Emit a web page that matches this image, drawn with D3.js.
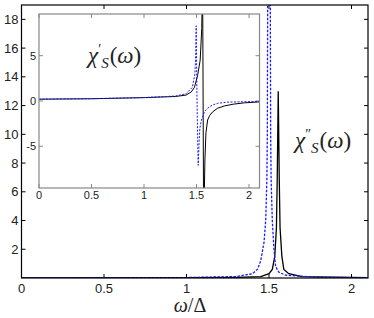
<!DOCTYPE html>
<html>
<head>
<meta charset="utf-8">
<script src="https://cdn.jsdelivr.net/npm/d3@7"></script>
<style>
  body { margin: 0; background: #fff; }
  svg { display: block; font-family: "Liberation Sans", Arial, sans-serif; }
  .math { font-family: "Liberation Serif", "DejaVu Serif", serif; font-style: italic; }
</style>
</head>
<body>
<svg width="374" height="318"></svg>
<script>
// chi'' (imaginary part), main axes
let blackIm = [
  [0, 0], [1.0, 0.02], [1.3, 0.05], [1.45, 0.1], [1.5, 0.3], [1.52, 0.6], [1.535, 1.5],
  [1.545, 3.5], [1.55, 7], [1.556, 13], [1.562, 7], [1.567, 3.5], [1.578, 1.5],
  [1.59, 0.6], [1.62, 0.3], [1.7, 0.1], [2.1, 0.03]
];
let blueIm = [
  [0, 0], [1.0, 0.03], [1.3, 0.1], [1.4, 0.3], [1.43, 0.6], [1.45, 1.2], [1.47, 2.5],
  [1.48, 4], [1.487, 6.8], [1.49, 10], [1.492, 19], [1.494, 30], [1.506, 30], [1.508, 19],
  [1.51, 10], [1.513, 6.8], [1.52, 4], [1.53, 2], [1.54, 0.8], [1.56, 0.4], [1.6, 0.2],
  [1.8, 0.05], [2.1, 0.02]
];
// chi' (real part), inset
let blackRe = [
  [0, 0.2], [0.5, 0.25], [1.0, 0.37], [1.3, 0.5], [1.4, 0.65], [1.45, 1.0], [1.48, 1.5],
  [1.51, 2.8], [1.535, 4.5], [1.55, 8], [1.558, 14], [1.568, -14], [1.575, -10],
  [1.58, -6.5], [1.59, -3.5], [1.606, -2.1], [1.625, -1.6], [1.654, -1.2], [1.7, -0.8],
  [1.765, -0.55], [1.85, -0.35], [1.957, -0.2], [2.1, -0.1]
];
let blueRe = [
  [0, 0.2], [0.5, 0.25], [1.0, 0.38], [1.3, 0.55], [1.4, 0.8], [1.46, 1.5], [1.485, 3],
  [1.492, 5], [1.497, 8.3], [1.505, 0], [1.516, -7.1], [1.525, -4.5], [1.532, -3],
  [1.545, -2.2], [1.558, -1.7], [1.58, -1.1], [1.606, -0.8], [1.65, -0.45], [1.7, -0.26],
  [1.8, -0.12], [2.1, -0.05]
];
let mainXTicks = [0, 0.5, 1, 1.5, 2];
let mainYTicks = [2, 4, 6, 8, 10, 12, 14, 16, 18];
let insetXTicks = [0, 0.5, 1, 1.5, 2];
let insetYTicks = [-5, 0, 5];

let svg = d3.select("svg");

function drawFrame(g, x, y, xt, yt, color, fs, xlabelDy) {
  let [x0, x1] = x.range();
  let [y0, y1] = y.range();
  let tick = 4;
  g.append('rect')
    .attr('x', x0).attr('y', y1)
    .attr('width', x1 - x0).attr('height', y0 - y1)
    .attr('fill', '#fff').attr('stroke', 'none');
  let ticks = g.append('g').attr('stroke', color).attr('stroke-width', 1);
  xt.forEach(t => {
    ticks.append('line').attr('x1', x(t)).attr('x2', x(t)).attr('y1', y0).attr('y2', y0 - tick);
    ticks.append('line').attr('x1', x(t)).attr('x2', x(t)).attr('y1', y1).attr('y2', y1 + tick);
  });
  yt.forEach(t => {
    ticks.append('line').attr('x1', x0).attr('x2', x0 + tick).attr('y1', y(t)).attr('y2', y(t));
    ticks.append('line').attr('x1', x1).attr('x2', x1 - tick).attr('y1', y(t)).attr('y2', y(t));
  });
  g.selectAll('.xl').data(xt).enter().append('text')
    .attr('x', d => x(d)).attr('y', y0 + xlabelDy)
    .attr('text-anchor', 'middle').attr('font-size', fs).attr('fill', '#222')
    .text(d => d);
  g.selectAll('.yl').data(yt).enter().append('text')
    .attr('x', x0 - 3).attr('y', d => y(d)).attr('dy', '0.35em')
    .attr('text-anchor', 'end').attr('font-size', fs).attr('fill', '#222')
    .text(d => d);
}

function drawCurves(g, x, y, series, id, width) {
  let [x0, x1] = x.range();
  let [y0, y1] = y.range();
  g.append('clipPath').attr('id', id)
    .append('rect').attr('x', x0).attr('y', y1).attr('width', x1 - x0).attr('height', y0 - y1);
  let line = d3.line().x(d => x(d[0])).y(d => y(d[1]));
  let cg = g.append('g').attr('clip-path', `url(#${id})`);
  series.forEach(s => {
    cg.append('path')
      .attr('d', line(s.data))
      .attr('fill', 'none')
      .attr('stroke', s.color)
      .attr('stroke-width', width)
      .attr('stroke-dasharray', s.dash);
  });
}

function border(g, x, y, color, w) {
  let [x0, x1] = x.range();
  let [y0, y1] = y.range();
  g.append('rect')
    .attr('x', x0).attr('y', y1)
    .attr('width', x1 - x0).attr('height', y0 - y1)
    .attr('fill', 'none').attr('stroke', color).attr('stroke-width', w);
}

function mathLabel(px, py, prime) {
  let t = svg.append('text').attr('class', 'math').attr('x', px).attr('y', py)
    .attr('font-size', 23).attr('fill', '#222');
  t.append('tspan').text('χ');
  t.append('tspan').attr('font-size', 14).attr('dy', -9).attr('font-style', 'normal').text(prime);
  t.append('tspan').attr('font-size', 15).attr('dy', 14).text('S');
  t.append('tspan').attr('dy', -5).attr('dx', 1).attr('font-style', 'normal').text('(');
  t.append('tspan').text('ω');
  t.append('tspan').attr('font-style', 'normal').text(')');
}

// main axes
let x = d3.scaleLinear().domain([0, 2.1]).range([21.5, 368]);
let y = d3.scaleLinear().domain([0, 19]).range([278, 5]);
let main = svg.append('g');
drawFrame(main, x, y, mainXTicks, mainYTicks, '#000', 13, 15);
drawCurves(main, x, y, [
  { data: blackIm, color: '#000', dash: null },
  { data: blueIm, color: '#1a1aff', dash: '2.5,1.5' }
], 'clipMain', 1.3);
border(main, x, y, '#000', 1.2);

// inset
let xi = d3.scaleLinear().domain([0, 2.1]).range([39, 259.5]);
let yi = d3.scaleLinear().domain([-9.6, 9.6]).range([188, 14]);
let inset = svg.append('g');
drawFrame(inset, xi, yi, insetXTicks, insetYTicks, '#888', 11, 11);
drawCurves(inset, xi, yi, [
  { data: blackRe, color: '#000', dash: null },
  { data: blueRe, color: '#1a1aff', dash: '2,1.5' }
], 'clipInset', 1);
border(inset, xi, yi, '#888', 1.2);

// labels
mathLabel(88, 63, '′');
mathLabel(295, 148, '″');

let xl = svg.append('text').attr('x', 190).attr('y', 312).attr('text-anchor', 'middle')
  .attr('font-size', 20).attr('fill', '#222').attr('class', 'math');
xl.append('tspan').text('ω');
xl.append('tspan').attr('font-style', 'normal').text('/Δ');
</script>
</body>
</html>
